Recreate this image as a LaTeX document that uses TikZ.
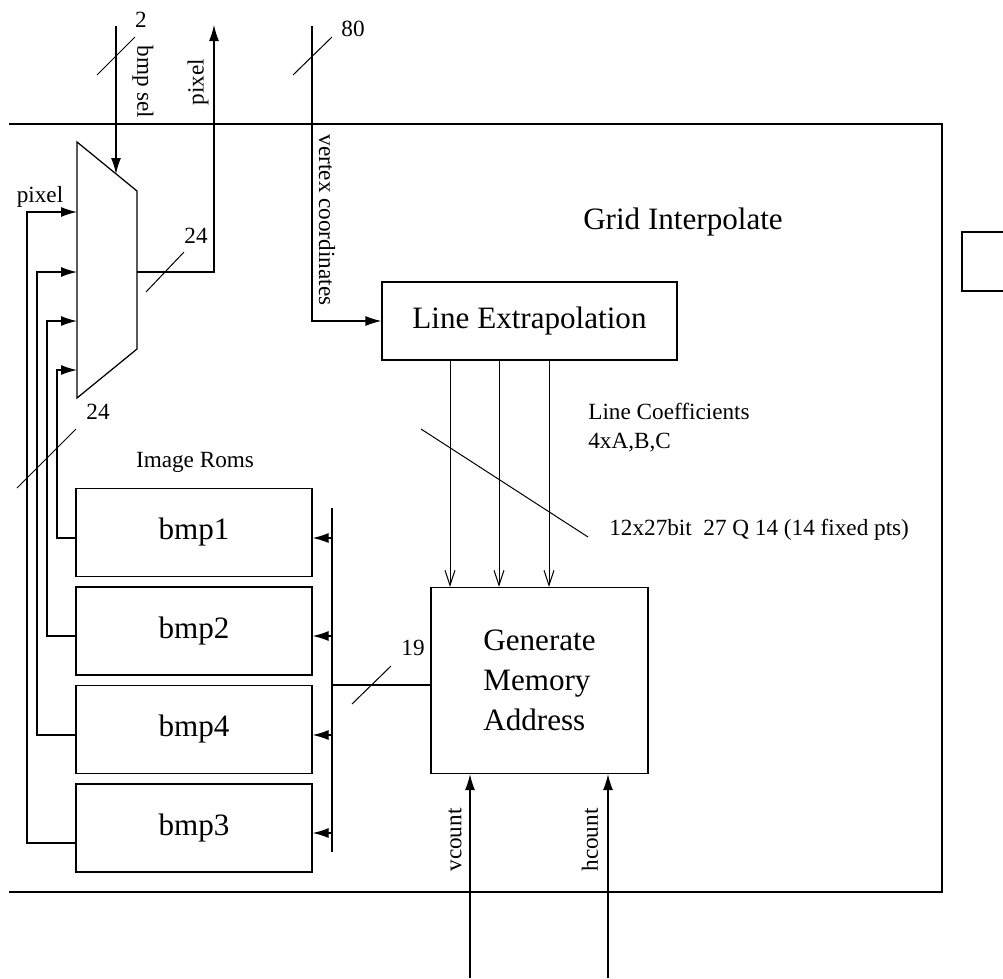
\documentclass[tikz,border=0pt]{standalone}
\usepackage{fontspec}
\setmainfont{Liberation Serif}
\usetikzlibrary{arrows.meta}

\begin{document}
\begin{tikzpicture}[x=0.2mm, y=-0.2mm,
  block/.style={draw, line width=0.25mm, font=\fontsize{17.7}{22.7}\selectfont, inner sep=0pt},
  title/.style={font=\fontsize{17.7}{22.7}\selectfont, inner sep=0pt},
  lbl/.style={font=\fontsize{13.2}{16.4}\selectfont, inner sep=0pt},
  wire/.style={line width=0.25mm},
  sig/.style={wire, -{Latex[length=3.2mm, width=2mm]}},
  coef/.style={line width=0.2mm, -{Straight Barb[length=3mm, width=2mm]}},
  tick/.style={line width=0.2mm}]
  \useasboundingbox (0,0) rectangle (1003,978);

  \draw[wire] (9,124) -- (942,124) -- (942,892) -- (9,892);
  \draw[wire] (1010,232) -- (962,232) -- (962,291) -- (1010,291);
  \node[title] (grid) at (683,222) {Grid Interpolate};

  \node[block, minimum width=59mm, minimum height=15.6mm] (lext) at (529.5,321) {Line Extrapolation};
  \node[block, minimum width=43.4mm, minimum height=37.2mm, align=left] (gma) at (539.5,680.5) {Generate\\Memory\\Address};
  \foreach \name/\y in {bmp1/532.5, bmp2/631, bmp4/729.5, bmp3/828}
    \node[block, minimum width=47.2mm, minimum height=17.6mm] (\name) at (194,\y) {\name};
  \node[lbl] (roms) at (195,462) {Image Roms};

  \coordinate (muxtl) at (77,142);
  \coordinate (muxtr) at (137,191);
  \coordinate (muxbr) at (137,349);
  \coordinate (muxbl) at (77,398);
  \draw[wire] (muxtl) -- (muxtr) -- (muxbr) -- (muxbl) -- cycle;

  \coordinate (selin) at (116,26);
  \coordinate (selend) at (116,174);
  \draw[sig] (selin) -- (selend);
  \draw[tick] (97,75) -- (135,37);
  \node[lbl] (selw) at (141,20) {2};
  \node[lbl, rotate=-90] (sellbl) at (143,82) {bmp sel};

  \coordinate (muxout) at (137,272);
  \coordinate (pixout) at (214,25);
  \draw[sig] (muxout) -| (pixout);
  \draw[tick] (146,292) -- (184,252);
  \node[lbl] (pixw) at (196,236) {24};
  \node[lbl, rotate=90] (pixlbl) at (198,82) {pixel};

  \coordinate (vtxin) at (312,26);
  \draw[sig] (vtxin) |- (lext.west);
  \draw[tick] (293,75) -- (332,37);
  \node[lbl] (vtxw) at (353,29) {80};
  \node[lbl, rotate=-90] (vtxlbl) at (327,220) {vertex coordinates};

  \foreach \name/\dy/\x/\y [count=\i] in {bmp1/1.1/57/370, bmp2/1/47/321, bmp4/1.1/37/272, bmp3/3/27/212} {
    \coordinate (fb\i) at (\x,\y);
    \coordinate (in\i) at (muxtl |- fb\i);
    \draw[sig] ([yshift=-\dy mm]\name.west) -| (fb\i) -- (in\i);
  }
  \node[lbl] (fblbl) at (40,197) {pixel};
  \draw[tick] (17,488) -- (76,429);
  \node[lbl] (fbw) at (98,412) {24};

  \coordinate (bustop) at (332,508);
  \coordinate (busbot) at (332,852);
  \coordinate (busjoin) at (332,685);
  \draw[wire] (bustop) -- (busbot);
  \draw[wire] (busjoin) -- (busjoin -| gma.west);
  \foreach \name/\dy in {bmp1/1.1, bmp2/1, bmp4/1.1, bmp3/1} {
    \path ([yshift=-\dy mm]\name.east) coordinate (\name-in);
    \draw[sig] (\name-in -| bustop) -- (\name-in);
  }
  \draw[tick] (352,704) -- (391,666);
  \node[lbl] (busw) at (413,648) {19};

  \foreach \x [count=\i] in {450,499,549} {
    \coordinate (co\i) at (\x,0);
    \draw[coef] (lext.south -| co\i) -- (gma.north -| co\i);
  }
  \draw[tick] (421,429) -- (588,537);
  \node[lbl, anchor=west, align=left] (coeflbl) at (588,427.5) {Line Coefficients\\4xA,B,C};
  \node[lbl, anchor=west] (coefw) at (609,530) {12x27bit~~27 Q 14 (14 fixed pts)};

  \coordinate (vin) at (470,978);
  \coordinate (hin) at (608,978);
  \draw[sig] (vin) -- (vin |- gma.south);
  \draw[sig] (hin) -- (hin |- gma.south);
  \node[lbl, rotate=90] (vcnt) at (455,840) {vcount};
  \node[lbl, rotate=90] (hcnt) at (590,840) {hcount};
\end{tikzpicture}
\end{document}
